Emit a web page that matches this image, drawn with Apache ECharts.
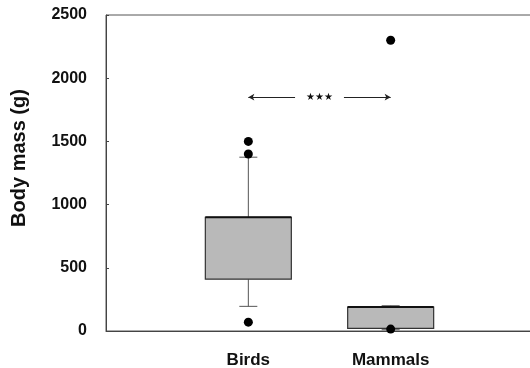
<!DOCTYPE html>
<html>
<head>
<meta charset="utf-8">
<script src="https://cdn.jsdelivr.net/npm/echarts@6/dist/echarts.min.js"></script>
<style>
  html, body { margin: 0; padding: 0; background: #fff; }
  #chart { width: 530px; height: 368px; }
</style>
</head>
<body>
<div id="chart"></div>
<script>
// categories (blank slots at both ends keep the groups off the frame edges)
const categories = ['', 'Birds', 'Mammals', '']
// [category index, lower whisker, Q1, median, Q3, upper whisker]
const boxes = [
  [1, 195, 410, 900, 900, 1375],
  [2, 10, 20, 190, 190, 200]
]
// outliers: [category index, value]
const outliers = [
  [1, 1500], [1, 1400], [1, 70],
  [2, 2300], [2, 15]
]
const yTicks = { min: 0, max: 2500, interval: 500 }
const sigLevel = 1850
const sigText = '★★★'

const chart = echarts.init(document.getElementById('chart'), null, { renderer: 'canvas' })

const BOX_W = 86
const CAP_W = 18

function renderBox(params, api) {
  const x = api.value(0)
  const pt = (v) => api.coord([x, api.value(v)])
  const lo = pt(1), q1 = pt(2), med = pt(3), q3 = pt(4), hi = pt(5)
  const cx = lo[0]
  const whisker = { stroke: '#555', lineWidth: 1 }
  return {
    type: 'group',
    children: [
      { type: 'line', shape: { x1: cx, y1: hi[1], x2: cx, y2: q3[1] }, style: whisker },
      { type: 'line', shape: { x1: cx, y1: q1[1], x2: cx, y2: lo[1] }, style: whisker },
      { type: 'line', shape: { x1: cx - CAP_W / 2, y1: hi[1], x2: cx + CAP_W / 2, y2: hi[1] }, style: whisker },
      { type: 'line', shape: { x1: cx - CAP_W / 2, y1: lo[1], x2: cx + CAP_W / 2, y2: lo[1] }, style: whisker },
      {
        type: 'rect',
        shape: { x: cx - BOX_W / 2, y: q3[1], width: BOX_W, height: q1[1] - q3[1] },
        style: { fill: '#b9b9b9', stroke: '#333', lineWidth: 1.2 }
      },
      { type: 'line', shape: { x1: cx - BOX_W / 2, y1: med[1], x2: cx + BOX_W / 2, y2: med[1] }, style: { stroke: '#111', lineWidth: 2 } }
    ]
  }
}

const option = {
  animation: false,
  grid: {
    left: 106, top: 15, bottom: 37, width: 427,
    outerBoundsMode: 'none',
    containLabel: false,
    show: true, borderColor: '#555', borderWidth: 1
  },
  xAxis: {
    type: 'category',
    data: categories,
    boundaryGap: false,
    axisLine: { lineStyle: { color: '#444' } },
    axisTick: { show: false },
    axisLabel: {
      interval: 0, margin: 21,
      color: '#111', fontSize: 17, fontWeight: 'bold', fontFamily: 'Liberation Sans, Arial'
    }
  },
  yAxis: {
    type: 'value',
    min: yTicks.min, max: yTicks.max, interval: yTicks.interval,
    splitLine: { show: false },
    axisLine: { show: true, lineStyle: { color: '#444' } },
    axisTick: { show: true, inside: true, length: 3, lineStyle: { color: '#444' } },
    axisLabel: {
      margin: 19,
      formatter: (v) => String(v),
      color: '#111', fontSize: 16, fontWeight: 'bold', fontFamily: 'Liberation Sans, Arial'
    }
  },
  graphic: [{
    type: 'text',
    x: 19, y: 158,
    rotation: Math.PI / 2,
    style: {
      text: 'Body mass (g)',
      fill: '#111',
      font: 'bold 20px "Liberation Sans", Arial',
      align: 'center',
      verticalAlign: 'middle'
    }
  }],
  series: [
    {
      type: 'custom',
      renderItem: renderBox,
      data: boxes,
      encode: { x: 0, y: [1, 2, 3, 4, 5] },
      z: 2
    },
    {
      type: 'scatter',
      data: outliers,
      symbol: 'circle',
      symbolSize: 9,
      itemStyle: { color: '#000', opacity: 1 },
      z: 3,
      markLine: {
        silent: true,
        symbol: ['arrow', 'arrow'],
        symbolSize: [5, 6],
        lineStyle: { color: '#222', width: 1, type: 'solid' },
        label: {
          show: true,
          position: 'insideMiddle',
          formatter: sigText,
          color: '#111',
          fontSize: 10,
          fontFamily: 'DejaVu Sans',
          backgroundColor: '#fff',
          padding: [2, 11]
        },
        data: [[{ coord: [1, sigLevel] }, { coord: [2, sigLevel] }]]
      }
    }
  ]
}

chart.setOption(option)
</script>
</body>
</html>
